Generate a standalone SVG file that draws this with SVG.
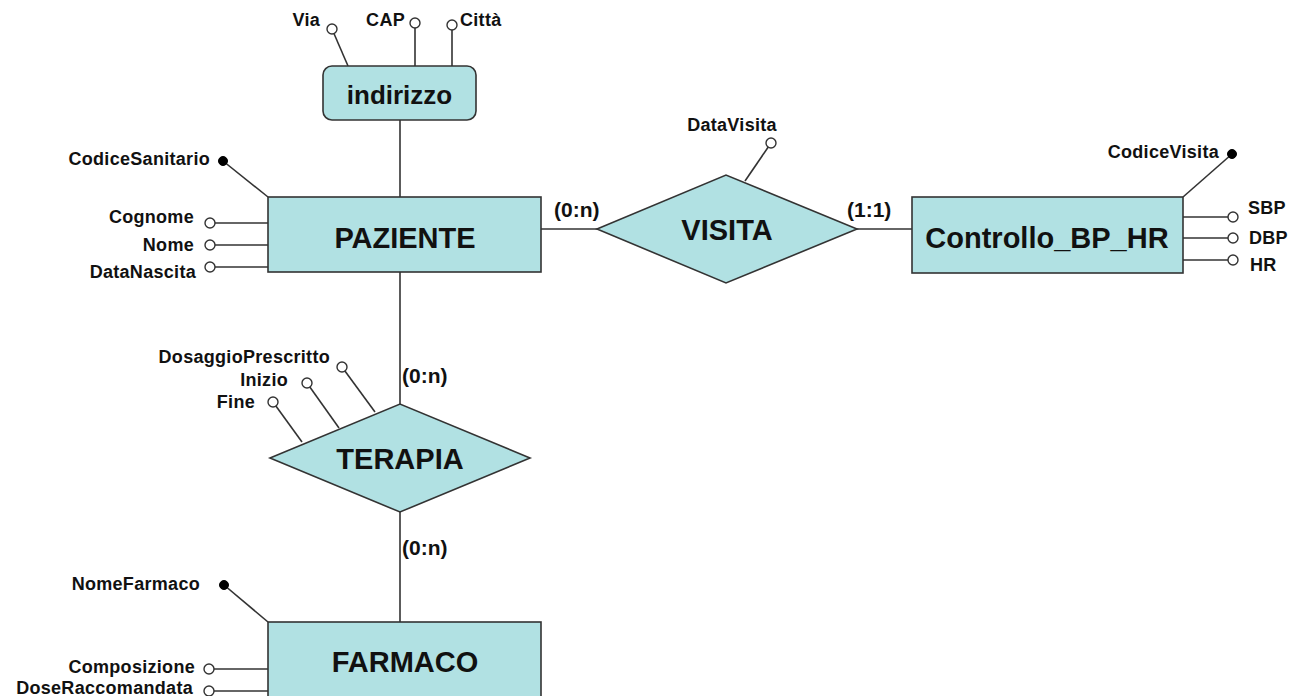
<svg xmlns="http://www.w3.org/2000/svg" width="1300" height="696" viewBox="0 0 1300 696">
<style>
.shape{fill:#b1e1e3;stroke:#333;stroke-width:1.6}
.ln{stroke:#333;stroke-width:1.6;fill:none}
.att{fill:#fff;stroke:#333;stroke-width:1.4}
.key{fill:#000;stroke:#000;stroke-width:1}
.t{font-family:"Liberation Sans",Arial,sans-serif;font-weight:bold;fill:#111}
.big{font-size:29px;text-anchor:middle}
.lbl{font-size:18px;letter-spacing:0.3px}
.card{font-size:21px}
.end{text-anchor:end}
.mid{text-anchor:middle}
</style>
<rect width="1300" height="696" fill="#fff"/>
<g id="connectors">
<line class="ln" x1="400" y1="120" x2="400" y2="197"/>
<line class="ln" x1="541" y1="229" x2="597" y2="229"/>
<line class="ln" x1="857" y1="229" x2="912" y2="229"/>
<line class="ln" x1="400" y1="272" x2="400" y2="404"/>
<line class="ln" x1="400" y1="512" x2="400" y2="622"/>
<text class="t card" x="554" y="217">(0:n)</text>
<text class="t card" x="847" y="217">(1:1)</text>
<text class="t card" x="402" y="383">(0:n)</text>
<text class="t card" x="402" y="555">(0:n)</text>
</g>
<g id="indirizzo">
<line class="ln" x1="332" y1="29" x2="348" y2="66"/>
<line class="ln" x1="415" y1="23" x2="415" y2="66"/>
<line class="ln" x1="452" y1="25" x2="452" y2="66"/>
<rect class="shape" x="323" y="66" width="153" height="54" rx="9"/>
<text class="t mid" x="399.5" y="104" font-size="26">indirizzo</text>
<circle class="att" cx="332" cy="29" r="5"/>
<circle class="att" cx="415" cy="23" r="5"/>
<circle class="att" cx="452" cy="25" r="5"/>
<text class="t lbl end" x="320" y="26">Via</text>
<text class="t lbl end" x="405" y="26">CAP</text>
<text class="t lbl" x="460" y="26">Città</text>
</g>
<g id="paziente">
<line class="ln" x1="223" y1="161" x2="268" y2="197"/>
<line class="ln" x1="210" y1="223" x2="268" y2="223"/>
<line class="ln" x1="210" y1="245" x2="268" y2="245"/>
<line class="ln" x1="210" y1="267" x2="268" y2="267"/>
<rect class="shape" x="268" y="197" width="273" height="75"/>
<text class="t big" x="405" y="248">PAZIENTE</text>
<circle class="key" cx="223" cy="161" r="4.5"/>
<circle class="att" cx="210" cy="223" r="5"/>
<circle class="att" cx="210" cy="245" r="5"/>
<circle class="att" cx="210" cy="267" r="5"/>
<text class="t lbl end" x="210" y="165">CodiceSanitario</text>
<text class="t lbl end" x="194" y="223">Cognome</text>
<text class="t lbl end" x="194" y="251">Nome</text>
<text class="t lbl end" x="196" y="278">DataNascita</text>
</g>
<g id="visita">
<line class="ln" x1="771" y1="143" x2="745" y2="181"/>
<polygon class="shape" points="597,229 726,175 857,229 726,283"/>
<text class="t big" x="727" y="240">VISITA</text>
<circle class="att" cx="771" cy="143" r="5"/>
<text class="t lbl mid" x="732" y="131">DataVisita</text>
</g>
<g id="controllo">
<line class="ln" x1="1232" y1="154" x2="1183" y2="197"/>
<line class="ln" x1="1183" y1="217" x2="1233" y2="217"/>
<line class="ln" x1="1183" y1="238" x2="1233" y2="238"/>
<line class="ln" x1="1183" y1="260" x2="1233" y2="260"/>
<rect class="shape" x="912" y="197" width="271" height="76"/>
<text class="t big" x="1047" y="248" font-size="30">Controllo_BP_HR</text>
<circle class="key" cx="1232" cy="154" r="4.5"/>
<circle class="att" cx="1233" cy="217" r="5"/>
<circle class="att" cx="1233" cy="238" r="5"/>
<circle class="att" cx="1233" cy="260" r="5"/>
<text class="t lbl end" x="1219" y="158">CodiceVisita</text>
<text class="t lbl" x="1248" y="214">SBP</text>
<text class="t lbl" x="1249" y="244">DBP</text>
<text class="t lbl" x="1250" y="271">HR</text>
</g>
<g id="terapia">
<line class="ln" x1="342" y1="367" x2="375" y2="412"/>
<line class="ln" x1="307" y1="383" x2="339" y2="428"/>
<line class="ln" x1="273" y1="402" x2="302" y2="442"/>
<polygon class="shape" points="270,458 400,404 530,458 400,512"/>
<text class="t big" x="400" y="469">TERAPIA</text>
<circle class="att" cx="342" cy="367" r="5"/>
<circle class="att" cx="307" cy="383" r="5"/>
<circle class="att" cx="273" cy="402" r="5"/>
<text class="t lbl end" x="330" y="363">DosaggioPrescritto</text>
<text class="t lbl end" x="288" y="386">Inizio</text>
<text class="t lbl end" x="255" y="408">Fine</text>
</g>
<g id="farmaco">
<line class="ln" x1="224" y1="585" x2="268" y2="622"/>
<line class="ln" x1="209" y1="669" x2="268" y2="669"/>
<line class="ln" x1="209" y1="691" x2="268" y2="691"/>
<rect class="shape" x="268" y="622" width="273" height="78"/>
<text class="t big" x="405" y="672">FARMACO</text>
<circle class="key" cx="224" cy="585" r="4.5"/>
<circle class="att" cx="209" cy="669" r="5"/>
<circle class="att" cx="209" cy="691" r="5"/>
<text class="t lbl end" x="200" y="590">NomeFarmaco</text>
<text class="t lbl end" x="195" y="673">Composizione</text>
<text class="t lbl end" x="193" y="694">DoseRaccomandata</text>
</g>
</svg>
